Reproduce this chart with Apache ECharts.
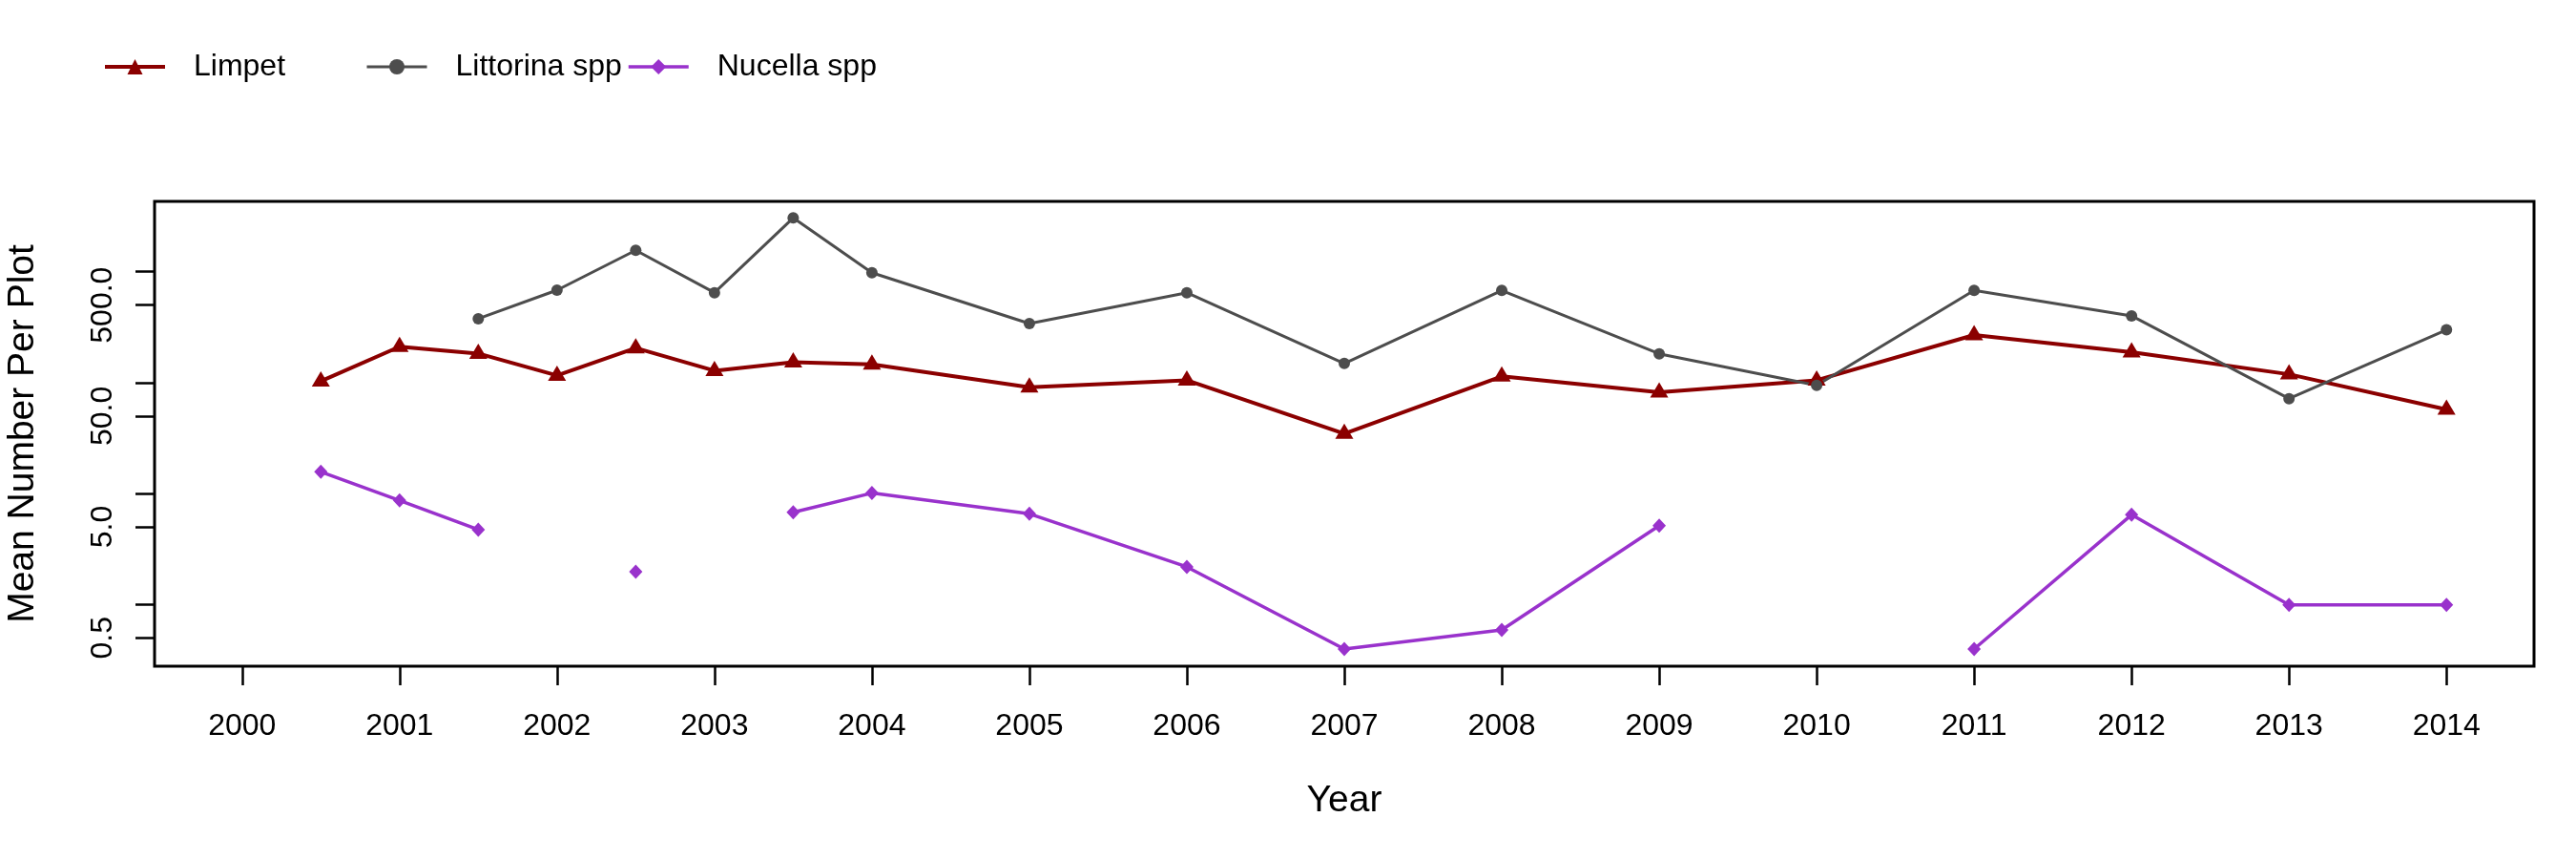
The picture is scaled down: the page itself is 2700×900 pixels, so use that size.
<!DOCTYPE html>
<html>
<head>
<meta charset="utf-8">
<script src="https://cdn.jsdelivr.net/npm/echarts@6/dist/echarts.min.js"></script>
<style>html,body{margin:0;padding:0;background:#fff}#c{width:2700px;height:900px}</style>
</head>
<body>
<div id="c"></div>
<script>
// Sampling dates (years; early years sampled twice a year)
const years = [2000.5, 2001, 2001.5, 2002, 2002.5, 2003, 2003.5, 2004, 2005, 2006, 2007, 2008, 2009, 2010, 2011, 2012, 2013, 2014];
// Mean number per plot (null = not recorded)
const limpet    = [103, 211, 183, 116, 205, 128, 153, 146, 91, 105, 34.7, 114, 81.9, 105, 269, 188, 119, 57.3];
const littorina = [null, null, 377, 682, 1560, 647, 3056, 980, 341, 647, 149, 678, 182, 94.6, 678, 400, 71.7, 299];
const nucella   = [15.7, 8.67, 4.72, null, 1.97, null, 6.78, 10.1, 6.57, 2.18, 0.396, 0.589, 5.14, null, 0.396, 6.44, 0.99, 0.99];
// Axis ticks and labels
const xTicks = [2000, 2001, 2002, 2003, 2004, 2005, 2006, 2007, 2008, 2009, 2010, 2011, 2012, 2013, 2014];
const yTicks = [0.5, 1, 5, 10, 50, 100, 500, 1000];
const yLabels = [0.5, 5, 50, 500];
const seriesNames = ['Limpet', 'Littorina spp', 'Nucella spp'];
const seriesColors = ['#8B0000', '#4D4D4D', '#9932CC'];
const lineWidths = [4, 3, 3.5];

const FONT = 'Liberation Sans, Arial, sans-serif';
const pairs = vals => years.map((x, i) => [x, vals[i] == null ? '-' : vals[i]]);

const chart = echarts.init(document.getElementById('c'), null, {renderer: 'canvas'});
const legendAt = (i, left) => ({
  orient: 'horizontal', top: 54, left: left, padding: 0, itemWidth: 63, itemHeight: 20, itemGap: 0,
  data: [seriesNames[i]],
  lineStyle: {width: lineWidths[i]},
  textStyle: {fontSize: 32, fontFamily: FONT, color: '#000', padding: [0, 0, 0, 25]}
});
chart.setOption({
  animation: false,
  backgroundColor: '#fff',
  legend: [legendAt(0, 108), legendAt(1, 383), legendAt(2, 657)],
  grid: {left: 162, right: 44, top: 211, bottom: 202, show: true, borderColor: '#000', borderWidth: 3, containLabel: false, outerBoundsMode: 'none'},
  xAxis: {
    type: 'value', min: 1999.444, max: 2014.556,
    axisLine: {show: false}, splitLine: {show: false},
    axisTick: {show: true, length: 20, customValues: xTicks, lineStyle: {color: '#000', width: 2.5}},
    axisLabel: {customValues: xTicks, margin: 47, fontSize: 32, fontFamily: FONT, color: '#000', formatter: v => String(Math.round(v))},
    name: 'Year', nameLocation: 'middle', nameGap: 122,
    nameTextStyle: {fontSize: 39, fontFamily: FONT, color: '#000'}
  },
  yAxis: {
    type: 'log', logBase: 10, min: 0.2774, max: 4307,
    axisLine: {show: false}, splitLine: {show: false}, minorTick: {show: false},
    axisTick: {show: true, length: 20, customValues: yTicks, lineStyle: {color: '#000', width: 2.5}},
    axisLabel: {customValues: yLabels, rotate: 90, margin: 38, fontSize: 32, fontFamily: FONT, color: '#000', formatter: v => Number(v).toFixed(1)},
    name: 'Mean Number Per Plot', nameLocation: 'middle', nameGap: 118, nameRotate: 90,
    nameTextStyle: {fontSize: 39, fontFamily: FONT, color: '#000'}
  },
  series: [
    {name: seriesNames[0], type: 'line', data: pairs(limpet), connectNulls: false,
     symbol: 'triangle', symbolSize: [19, 16], symbolOffset: [0, -2.5],
     lineStyle: {color: seriesColors[0], width: lineWidths[0]}, itemStyle: {color: seriesColors[0]}},
    {name: seriesNames[1], type: 'line', data: pairs(littorina), connectNulls: false,
     symbol: 'circle', symbolSize: 12,
     lineStyle: {color: seriesColors[1], width: lineWidths[1]}, itemStyle: {color: seriesColors[1]}},
    {name: seriesNames[2], type: 'line', data: pairs(nucella), connectNulls: false,
     symbol: 'diamond', symbolSize: [14, 15],
     lineStyle: {color: seriesColors[2], width: lineWidths[2]}, itemStyle: {color: seriesColors[2]}}
  ]
});
</script>
</body>
</html>
